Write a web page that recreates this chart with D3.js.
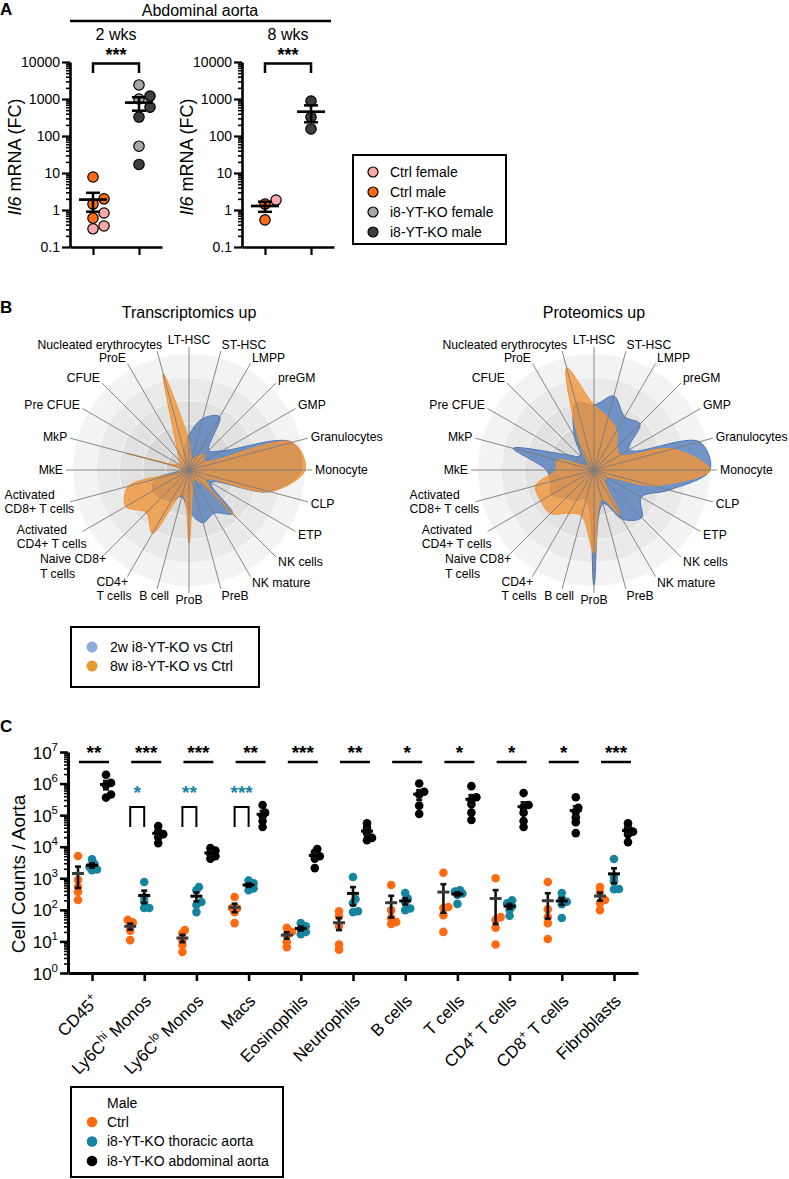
<!DOCTYPE html>
<html>
<head>
<meta charset="utf-8">
<script src="https://cdn.jsdelivr.net/npm/d3@7/dist/d3.min.js"></script>
<style>
body{margin:0;background:#fff;}
svg text{font-family:"Liberation Sans",Arial,Helvetica,sans-serif;fill:#000;}
</style>
</head>
<body>
<svg id="fig" width="789" height="1179" xmlns="http://www.w3.org/2000/svg"></svg>
<script>
// ================= Panel A data =================
const aTickValues = [0.1, 1, 10, 100, 1000, 10000];
const aGroups = ["Ctrl", "i8-YT-KO"];
const aLegendLabels = ["Ctrl female", "Ctrl male", "i8-YT-KO female", "i8-YT-KO male"];
const a2wkCtrl = [7.8, 1.45, 0.6, 2.0, 0.83, 0.37, 0.31];
const a2wkCtrlSex = ["male", "male", "male", "male", "female", "female", "female"];
const a2wkKO = [2400, 1000, 53, 1200, 600, 325, 17];
const a2wkKOSex = ["female", "female", "female", "male", "male", "male", "male"];
const a8wkCtrl = [1.86, 1.45, 0.54];
const a8wkCtrlSex = ["female", "male", "male"];
const a8wkKO = [880, 325, 155];
const a8wkKOSex = ["male", "male", "male"];

// ================= Panel B data =================
const radarCategories = ["LT-HSC", "ST-HSC", "LMPP", "preGM", "GMP", "Granulocytes", "Monocyte", "CLP", "ETP",
  "NK cells", "NK mature", "PreB", "ProB", "B cell", "CD4+\nT cells", "Naive CD8+\nT cells",
  "Activated\nCD4+ T cells", "Activated\nCD8+ T cells", "MkE", "MkP", "Pre CFUE", "CFUE", "ProE", "Nucleated erythrocytes"];
const transcr2w = [0.30, 0.46, 0.53, 0.24, 0.33, 0.92, 0.97, 0.72, 0.22, 0.53, 0.43, 0.47, 0.36, 0.24, 0.30, 0.34, 0.36, 0.30, 0.07, 0.07, 0.05, 0.05, 0.07, 0.17];
const transcr8w = [0.25, 0.10, 0.13, 0.19, 0.15, 0.92, 1.00, 0.72, 0.17, 0.56, 0.09, 0.13, 0.63, 0.22, 0.63, 0.52, 0.63, 0.54, 0.07, 0.56, 0.10, 0.12, 0.20, 0.86];
const prot2w = [0.56, 0.66, 0.53, 0.56, 0.35, 0.94, 1.00, 0.67, 0.47, 0.58, 0.49, 0.30, 0.99, 0.26, 0.30, 0.34, 0.42, 0.39, 0.41, 0.72, 0.26, 0.17, 0.34, 0.60];
const prot8w = [0.56, 0.47, 0.39, 0.28, 0.26, 0.70, 1.00, 0.52, 0.13, 0.13, 0.45, 0.26, 0.72, 0.41, 0.43, 0.53, 0.53, 0.52, 0.33, 0.33, 0.07, 0.07, 0.22, 0.91];
const radarTitles = ["Transcriptomics up", "Proteomics up"];
const radarLegend = ["2w i8-YT-KO vs Ctrl", "8w i8-YT-KO vs Ctrl"];

// ================= Panel C data =================
const cCategories = ["CD45+", "Ly6Chi Monos", "Ly6Clo Monos", "Macs", "Eosinophils", "Neutrophils", "B cells", "T cells", "CD4+ T cells", "CD8+ T cells", "Fibroblasts"];
const cTickExponents = [0, 1, 2, 3, 4, 5, 6, 7];
const cCtrl = [
  [5100, 890, 530, 370, 205],
  [48, 40, 30, 22, 11],
  [23, 18, 11, 7.7, 4.6],
  [255, 115, 110, 85, 38],
  [27, 20, 16, 9.6, 6.6],
  [90, 62, 30, 8, 5.5],
  [610, 98, 55, 41, 36],
  [1500, 123, 115, 68, 20],
  [1000, 59, 48, 27, 8],
  [760, 105, 59, 38, 12],
  [530, 370, 205, 165, 98]
];
const cThoracic = [
  [4000, 2800, 2300, 1900, 1800],
  [760, 255, 180, 115, 115],
  [530, 420, 178, 142, 85],
  [850, 700, 620, 480, 420],
  [38, 30, 24, 20, 17],
  [1100, 220, 165, 90, 85],
  [340, 230, 180, 110, 98],
  [420, 380, 330, 300, 155],
  [200, 160, 130, 100, 65],
  [340, 230, 180, 150, 55],
  [4100, 1100, 800, 460, 450]
];
const cAbdominal = [
  [1.9e6, 1.05e6, 9e5, 4.5e5, 3.6e5],
  [4.5e4, 3e4, 2.5e4, 2e4, 1.3e4],
  [9e3, 7.5e3, 6e3, 5e3, 4.2e3],
  [2.1e5, 1.2e5, 9.4e4, 6.5e4, 4.2e4],
  [8.5e3, 6.5e3, 5e3, 4.2e3, 2.1e3],
  [5.5e4, 3.9e4, 2.7e4, 1.9e4, 1.6e4],
  [1.0e6, 5.5e5, 4.5e5, 2e5, 1.1e5],
  [8.3e5, 3.7e5, 3e5, 2.2e5, 1.2e5, 7e4],
  [5e5, 2.1e5, 1.8e5, 1.2e5, 6.5e4, 4.2e4],
  [3.7e5, 1.7e5, 1.3e5, 8.5e4, 6e4, 2.7e4],
  [5.5e4, 3.8e4, 3e4, 2.5e4, 1.4e4]
];
const cStars = ["**", "***", "***", "**", "***", "**", "*", "*", "*", "*", "***"];
const cThoracicStars = ["", "*", "**", "***", "", "", "", "", "", "", ""];
const cLegendTitle = "Male";
const cLegendLabels = ["Ctrl", "i8-YT-KO thoracic aorta", "i8-YT-KO abdominal aorta"];

// ================= helpers =================
const svg = d3.select("#fig");
const colA = {"Ctrl female": "#f7a9a8", "Ctrl male": "#ff6a13", "i8-YT-KO female": "#a6a6a6", "i8-YT-KO male": "#3d3d3d"};
const cColors = ["#ff6a10", "#16849e", "#000000"];

function swarm(vals, yScale, cx, minDist, step) {
  const order = d3.range(vals.length).sort((i, j) => vals[i] - vals[j]);
  const placed = [];
  const xs = new Array(vals.length);
  for (const i of order) {
    const y = yScale(vals[i]);
    let x = cx;
    for (let t = 0; t < 40; t++) {
      const off = t === 0 ? 0 : Math.ceil(t / 2) * step * (t % 2 ? 1 : -1);
      x = cx + off;
      if (placed.every(p => Math.hypot(p[0] - x, p[1] - y) >= minDist)) break;
    }
    placed.push([x, y]);
    xs[i] = x;
  }
  return xs;
}
function meanSem(v) {
  const m = d3.mean(v);
  const sem = d3.deviation(v) / Math.sqrt(v.length);
  return [m, sem];
}
function styleAxis(g, w) {
  g.attr("font-family", null).attr("font-size", null);
  g.select(".domain").attr("stroke", "#000").attr("stroke-width", w);
  g.selectAll(".tick line").attr("stroke", "#000").attr("stroke-width", w * 0.85);
}
function minorTicks(lo, hi) {
  const out = [];
  for (let e = lo; e < hi; e++) for (let k = 2; k <= 9; k++) out.push(k * Math.pow(10, e));
  return out;
}

// ================= Panel A =================
svg.append("text").attr("x", 0).attr("y", 15).attr("font-size", 17).attr("font-weight", "bold").text("A");
svg.append("line").attr("x1", 70).attr("x2", 331).attr("y1", 21).attr("y2", 21).attr("stroke", "#000").attr("stroke-width", 2.5);
svg.append("text").attr("x", 200).attr("y", 16).attr("text-anchor", "middle").attr("font-size", 16).text("Abdominal aorta");

const yA = d3.scaleLog().domain([0.1, 10000]).range([247, 62]);

function drawA(x0, title, ctrlV, ctrlS, koV, koS) {
  const xA = d3.scalePoint().domain(aGroups).range([x0, x0 + 92]).padding(0.5);
  const g = svg.append("g");
  const yl = g.append("text").attr("transform", `translate(${x0 - 49},157) rotate(-90)`).attr("text-anchor", "middle").attr("font-size", 18);
  yl.append("tspan").attr("font-style", "italic").text("Il6");
  yl.append("tspan").text(" mRNA (FC)");
  const gy = g.append("g").attr("transform", `translate(${x0},0)`)
    .call(d3.axisLeft(yA).tickValues(aTickValues).tickSize(8).tickSizeOuter(0).tickPadding(2).tickFormat(d => String(d)));
  styleAxis(gy, 2.6);
  gy.selectAll(".tick text").attr("font-size", 14);
  const gym = g.append("g").attr("transform", `translate(${x0},0)`)
    .call(d3.axisLeft(yA).tickValues(minorTicks(-1, 4)).tickSize(4).tickSizeOuter(0).tickFormat(""));
  gym.select(".domain").remove();
  gym.selectAll(".tick line").attr("stroke", "#000").attr("stroke-width", 1.6);
  const gx = g.append("g").attr("transform", `translate(0,247)`)
    .call(d3.axisBottom(xA).tickSize(8).tickSizeOuter(0).tickFormat(""));
  styleAxis(gx, 2.6);
  g.append("text").attr("x", (xA(aGroups[0]) + xA(aGroups[1])) / 2).attr("y", 40).attr("text-anchor", "middle").attr("font-size", 16).text(title);
  g.append("path").attr("d", `M${xA(aGroups[0])},73V63.5H${xA(aGroups[1])}V73`).attr("fill", "none").attr("stroke", "#000").attr("stroke-width", 2.5);
  g.append("text").attr("x", (xA(aGroups[0]) + xA(aGroups[1])) / 2).attr("y", 61).attr("text-anchor", "middle").attr("font-size", 18).attr("font-weight", "bold").text("***");
  [[ctrlV, ctrlS, "Ctrl"], [koV, koS, "i8-YT-KO"]].forEach(([vals, sex, grp]) => {
    const cx = xA(grp);
    const xs = swarm(vals, yA, cx, 10, 11);
    vals.forEach((v, i) => {
      g.append("circle").attr("cx", xs[i]).attr("cy", yA(v)).attr("r", 5.2)
        .attr("fill", colA[grp + " " + sex[i]]).attr("stroke", "#000").attr("stroke-width", 1.2);
    });
    const [m, s] = meanSem(vals);
    const lo = Math.max(m - s, 0.11), hi = m + s;
    g.append("line").attr("x1", cx).attr("x2", cx).attr("y1", yA(lo)).attr("y2", yA(hi)).attr("stroke", "#000").attr("stroke-width", 2.5);
    g.append("line").attr("x1", cx - 7).attr("x2", cx + 7).attr("y1", yA(lo)).attr("y2", yA(lo)).attr("stroke", "#000").attr("stroke-width", 2.5);
    g.append("line").attr("x1", cx - 7).attr("x2", cx + 7).attr("y1", yA(hi)).attr("y2", yA(hi)).attr("stroke", "#000").attr("stroke-width", 2.5);
    g.append("line").attr("x1", cx - 14).attr("x2", cx + 14).attr("y1", yA(m)).attr("y2", yA(m)).attr("stroke", "#000").attr("stroke-width", 2.7);
  });
}
drawA(70, "2 wks", a2wkCtrl, a2wkCtrlSex, a2wkKO, a2wkKOSex);
drawA(242, "8 wks", a8wkCtrl, a8wkCtrlSex, a8wkKO, a8wkKOSex);

{
  const g = svg.append("g");
  g.append("rect").attr("x", 353).attr("y", 155).attr("width", 153).attr("height", 89).attr("fill", "none").attr("stroke", "#000").attr("stroke-width", 2);
  aLegendLabels.forEach((lab, i) => {
    const y = 172 + i * 20;
    g.append("circle").attr("cx", 373).attr("cy", y).attr("r", 5).attr("fill", colA[lab]).attr("stroke", "#000").attr("stroke-width", 1.2);
    g.append("text").attr("x", 390).attr("y", y).attr("dy", "0.35em").attr("font-size", 14).text(lab);
  });
}

// ================= Panel B =================
svg.append("text").attr("x", 0).attr("y", 313).attr("font-size", 17).attr("font-weight", "bold").text("B");

function drawRadar(cx, cy, title, v2, v8) {
  const g = svg.append("g").attr("transform", `translate(${cx},${cy})`);
  const R = 116;
  const rS = d3.scaleLinear().domain([0, 1]).range([0, R]);
  const n = radarCategories.length;
  const ang = d3.scaleLinear().domain([0, n]).range([0, 2 * Math.PI]);
  svg.append("text").attr("x", cx).attr("y", 318).attr("text-anchor", "middle").attr("font-size", 16).text(title);
  const ringFill = ["#f3f3f3", "#eaeaea", "#e2e2e2", "#dadada", "#d2d2d2"];
  [1, 0.8, 0.6, 0.4, 0.2].forEach((f, k) => {
    g.append("circle").attr("r", rS(f)).attr("fill", ringFill[k]).attr("stroke", "#f9f9f9").attr("stroke-width", 0.8);
  });
  const line = d3.lineRadial().angle((d, i) => ang(i)).radius(d => rS(d)).curve(d3.curveCatmullRomClosed.alpha(0.5));
  g.append("path").attr("d", line(v2)).attr("fill", "#5a82be").attr("fill-opacity", 0.85).attr("stroke", "#4b77b4").attr("stroke-width", 1);
  g.append("path").attr("d", line(v8)).attr("fill", "#f2953a").attr("fill-opacity", 0.8).attr("stroke", "#f29434").attr("stroke-width", 1);
  const L = 123;
  radarCategories.forEach((lab, i) => {
    const a = ang(i), s = Math.sin(a), c = Math.cos(a);
    const ex = L * s, ey = -L * c;
    g.append("line").attr("x1", 0).attr("y1", 0).attr("x2", ex).attr("y2", ey).attr("stroke", "#7a7a7a").attr("stroke-width", 0.9);
    const lines = lab.split("\n");
    if (lines.length === 1) {
      let anchor = Math.abs(s) < 0.05 ? "middle" : (s > 0 ? "start" : "end");
      let dx = s * 3;
      if (c < -0.5 && s < -0.05 && s > -0.3) { anchor = "middle"; dx = -3; }
      if (c > 0.5 && s < -0.05 && s > -0.3) { dx = 5; }
      g.append("text").attr("x", ex + dx).attr("y", ey - c * 7).attr("dy", "0.35em").attr("text-anchor", anchor).attr("font-size", 12.2).text(lab);
    } else {
      const t = g.append("text").attr("font-size", 12.2);
      lines.forEach((ln, k) => t.append("tspan").attr("x", 0).attr("dy", k ? 14.3 : 0).text(ln));
      const maxW = d3.max(t.selectAll("tspan").nodes(), nd => nd.getComputedTextLength());
      const left = s < 0 ? ex + 4 - maxW : ex - 6;
      const centerY = ey - c * 20 - 5;
      const firstBase = centerY - 14.3 * (lines.length - 1) / 2 + 4.3;
      t.attr("transform", `translate(${left},${firstBase})`);
    }
  });
}
drawRadar(189, 470, radarTitles[0], transcr2w, transcr8w);
drawRadar(594, 470, radarTitles[1], prot2w, prot8w);

{
  const g = svg.append("g");
  g.append("rect").attr("x", 71).attr("y", 627).attr("width", 188).attr("height", 60).attr("fill", "none").attr("stroke", "#000").attr("stroke-width", 2);
  const cols = ["#8eaadb", "#e59a30"];
  radarLegend.forEach((lab, i) => {
    const y = 647 + i * 19;
    g.append("circle").attr("cx", 92).attr("cy", y).attr("r", 5.5).attr("fill", cols[i]);
    g.append("text").attr("x", 110).attr("y", y).attr("dy", "0.35em").attr("font-size", 14).text(lab);
  });
}

// ================= Panel C =================
svg.append("text").attr("x", 0).attr("y", 732).attr("font-size", 17).attr("font-weight", "bold").text("C");
{
  const g = svg.append("g");
  const yC = d3.scaleLog().domain([1, 1e7]).range([973, 752]);
  const xC = d3.scalePoint().domain(cCategories).range([68, 638]).padding(0.46);
  const sub = d3.scalePoint().domain(["ctrl", "thor", "abd"]).range([-14, 14]);

  g.append("text").attr("transform", "translate(25,874) rotate(-90)").attr("text-anchor", "middle").attr("font-size", 19).text("Cell Counts / Aorta");

  const gy = g.append("g").attr("transform", "translate(68,0)")
    .call(d3.axisLeft(yC).tickValues(cTickExponents.map(e => Math.pow(10, e))).tickSize(8).tickSizeOuter(0).tickFormat(""));
  styleAxis(gy, 3);
  gy.selectAll(".tick").each(function (d) {
    const t = d3.select(this).append("text").attr("x", -10).attr("y", 6).attr("text-anchor", "end").attr("font-size", 17);
    t.append("tspan").text("10");
    t.append("tspan").attr("dy", -8).attr("font-size", 11.5).text(Math.round(Math.log10(d)));
  });
  const gym = g.append("g").attr("transform", "translate(68,0)")
    .call(d3.axisLeft(yC).tickValues(minorTicks(0, 7)).tickSize(4).tickSizeOuter(0).tickFormat(""));
  gym.select(".domain").remove();
  gym.selectAll(".tick line").attr("stroke", "#000").attr("stroke-width", 1.6);

  const gx = g.append("g").attr("transform", "translate(0,973)")
    .call(d3.axisBottom(xC).tickSize(8).tickSizeOuter(0).tickFormat(""));
  styleAxis(gx, 3);

  cCategories.forEach(cat => {
    const t = g.append("text").attr("transform", `translate(${xC(cat) + 8},1002) rotate(-45)`).attr("text-anchor", "end").attr("font-size", 17);
    let m;
    if ((m = cat.match(/^(Ly6C)(hi|lo)(.*)$/))) {
      t.append("tspan").text(m[1]);
      t.append("tspan").attr("dy", -7).attr("font-size", 11.5).text(m[2]);
      t.append("tspan").attr("dy", 7).text(m[3]);
    } else if ((m = cat.match(/^(CD\d+)(\+)(.*)$/))) {
      t.append("tspan").text(m[1]);
      t.append("tspan").attr("dy", -7).attr("font-size", 11.5).text(m[2]);
      if (m[3]) t.append("tspan").attr("dy", 7).text(m[3]);
    } else {
      t.text(cat);
    }
  });

  const groups = [["ctrl", cCtrl], ["thor", cThoracic], ["abd", cAbdominal]];
  cCategories.forEach((cat, ci) => {
    groups.forEach(([key, arr], gi) => {
      const vals = arr[ci];
      const cx = xC(cat) + sub(key);
      const xs = swarm(vals, yC, cx, 4, 2.5);
      vals.forEach((v, i) => {
        g.append("circle").attr("cx", xs[i]).attr("cy", yC(v)).attr("r", 4.3).attr("fill", cColors[gi]);
      });
    });
    groups.forEach(([key, arr], gi) => {
      const vals = arr[ci];
      const cx = xC(cat) + sub(key);
      const [m, s] = meanSem(vals);
      const lo = Math.max(m - s, 1.05), hi = m + s;
      const col = gi === 0 ? "#3a3a3a" : "#000";
      g.append("line").attr("x1", cx).attr("x2", cx).attr("y1", yC(lo)).attr("y2", yC(hi)).attr("stroke", "#111").attr("stroke-width", 2.6);
      g.append("line").attr("x1", cx - 3).attr("x2", cx + 3).attr("y1", yC(lo)).attr("y2", yC(lo)).attr("stroke", "#111").attr("stroke-width", 2.6);
      g.append("line").attr("x1", cx - 3).attr("x2", cx + 3).attr("y1", yC(hi)).attr("y2", yC(hi)).attr("stroke", "#111").attr("stroke-width", 2.6);
      g.append("line").attr("x1", cx - 6).attr("x2", cx + 6).attr("y1", yC(m)).attr("y2", yC(m)).attr("stroke", col).attr("stroke-width", 3);
    });
    const mid = xC(cat) + 2;
    g.append("line").attr("x1", mid - 15).attr("x2", mid + 15).attr("y1", 762).attr("y2", 762).attr("stroke", "#000").attr("stroke-width", 2.5);
    g.append("text").attr("x", mid).attr("y", 759).attr("text-anchor", "middle").attr("font-size", 19).attr("font-weight", "bold").text(cStars[ci]);
    if (cThoracicStars[ci]) {
      const x1 = xC(cat) + sub("ctrl"), x2 = xC(cat) + sub("thor");
      g.append("path").attr("d", `M${x1},827V807H${x2}V827`).attr("fill", "none").attr("stroke", "#000").attr("stroke-width", 2);
      g.append("text").attr("x", (x1 + x2) / 2).attr("y", 799).attr("text-anchor", "middle").attr("font-size", 19).attr("font-weight", "bold")
        .style("fill", "#16849e").text(cThoracicStars[ci]);
    }
  });

  const lg = svg.append("g");
  lg.append("rect").attr("x", 71).attr("y", 1087).attr("width", 212).attr("height", 90).attr("fill", "none").attr("stroke", "#000").attr("stroke-width", 2);
  lg.append("text").attr("x", 107).attr("y", 1103).attr("dy", "0.35em").attr("font-size", 14).text(cLegendTitle);
  cLegendLabels.forEach((lab, i) => {
    const y = 1122 + i * 19.5;
    lg.append("circle").attr("cx", 92).attr("cy", y).attr("r", 5.3).attr("fill", cColors[i]);
    lg.append("text").attr("x", 107).attr("y", y).attr("dy", "0.35em").attr("font-size", 14).text(lab);
  });
}
</script>
</body>
</html>
